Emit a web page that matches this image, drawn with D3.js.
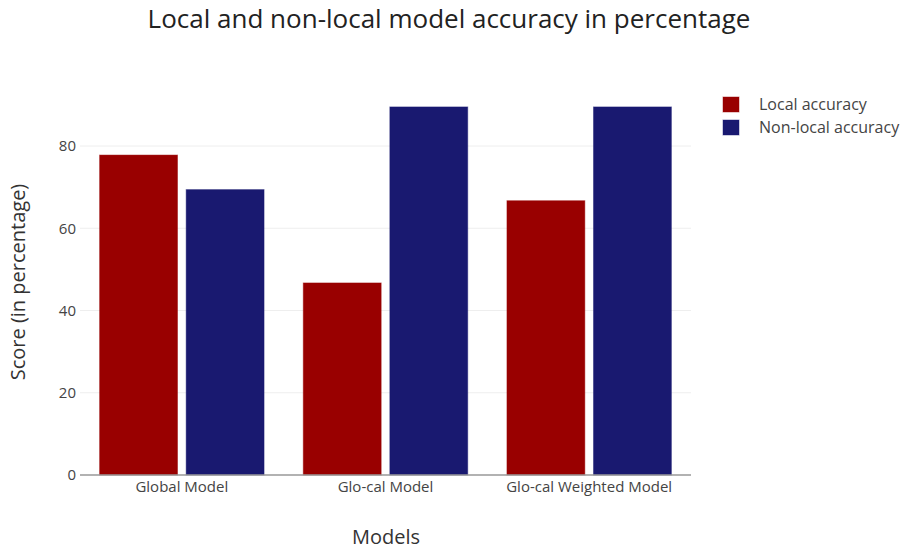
<!DOCTYPE html>
<html><head><meta charset="utf-8">
<script src="https://cdn.jsdelivr.net/npm/d3@7"></script>
<style>body{margin:0;background:#fff}svg{display:block}text{font-family:"Open Sans",sans-serif}</style>
</head><body>
<svg id="c" width="904" height="551"></svg>
<script>
const categories = ["Global Model", "Glo-cal Model", "Glo-cal Weighted Model"];
const seriesNames = ["Local accuracy", "Non-local accuracy"];
const localAccuracy = [77.8, 46.7, 66.7];
const nonLocalAccuracy = [69.4, 89.5, 89.5];
const yTicks = [0, 20, 40, 60, 80];
const colors = ["#990000", "#191970"];

const svg = d3.select("#c");
const L = 80, R = 691, B = 475;
const x = d3.scaleBand().domain(categories).range([L, R]).paddingInner(0.15).paddingOuter(0.075);
const xs = d3.scaleBand().domain(seriesNames).range([0, x.bandwidth()]).padding(0.05).paddingInner(0.1);
const y = d3.scaleLinear().domain([0, 80]).range([B, 146]);

// grid
svg.append("g").selectAll("line").data(yTicks.filter(d => d > 0)).join("line")
  .attr("x1", L).attr("x2", R).attr("y1", d => y(d)).attr("y2", d => y(d))
  .attr("stroke", "#eee").attr("stroke-width", 1);

const series = [localAccuracy, nonLocalAccuracy];
const data = [];
categories.forEach((c, i) => seriesNames.forEach((s, j) => data.push({c, s, v: series[j][i], j})));
svg.append("g").selectAll("rect").data(data).join("rect")
  .attr("x", d => x(d.c) + xs(d.s)).attr("width", xs.bandwidth())
  .attr("y", d => y(d.v)).attr("height", d => B - y(d.v))
  .attr("fill", d => colors[d.j])
  .attr("stroke", d => colors[d.j]).attr("stroke-opacity", 0.45).attr("stroke-width", 1);

// axes
const yAxis = d3.axisLeft(y).tickValues(yTicks).tickSize(0).tickPadding(4);
const gy = svg.append("g").attr("transform", `translate(${L},0)`).call(yAxis);
gy.select(".domain").remove();
gy.selectAll("text").attr("fill", "#444").style("font-size", "15px");

const xAxis = d3.axisBottom(x).tickSize(0).tickPadding(6);
const gx = svg.append("g").attr("transform", `translate(0,${B})`).call(xAxis);
gx.select(".domain").attr("stroke", "#999").attr("stroke-width", 1.5).attr("d", `M${L},0H${R}`);
gx.selectAll("text").attr("fill", "#444").style("font-size", "15px");

// titles
svg.append("text").attr("x", 449).attr("y", 28).attr("text-anchor", "middle")
  .attr("fill", "#222").style("font-size", "26px").text("Local and non-local model accuracy in percentage");
svg.append("text").attr("x", 386).attr("y", 544).attr("text-anchor", "middle")
  .attr("fill", "#333").style("font-size", "20px").text("Models");
svg.append("text").attr("transform", "translate(25,282) rotate(-90)").attr("text-anchor", "middle")
  .attr("fill", "#333").style("font-size", "20px").text("Score (in percentage)");

// legend
const lg = svg.append("g").attr("transform", "translate(723,97)");
seriesNames.forEach((s, i) => {
  const g = lg.append("g").attr("transform", `translate(0,${i * 23})`);
  g.append("rect").attr("width", 16).attr("height", 15).attr("fill", colors[i])
    .attr("stroke", colors[i]).attr("stroke-opacity", 0.45);
  g.append("text").attr("x", 36).attr("y", 13).attr("fill", "#444").style("font-size", "16px").text(s);
});
</script>
</body></html>
